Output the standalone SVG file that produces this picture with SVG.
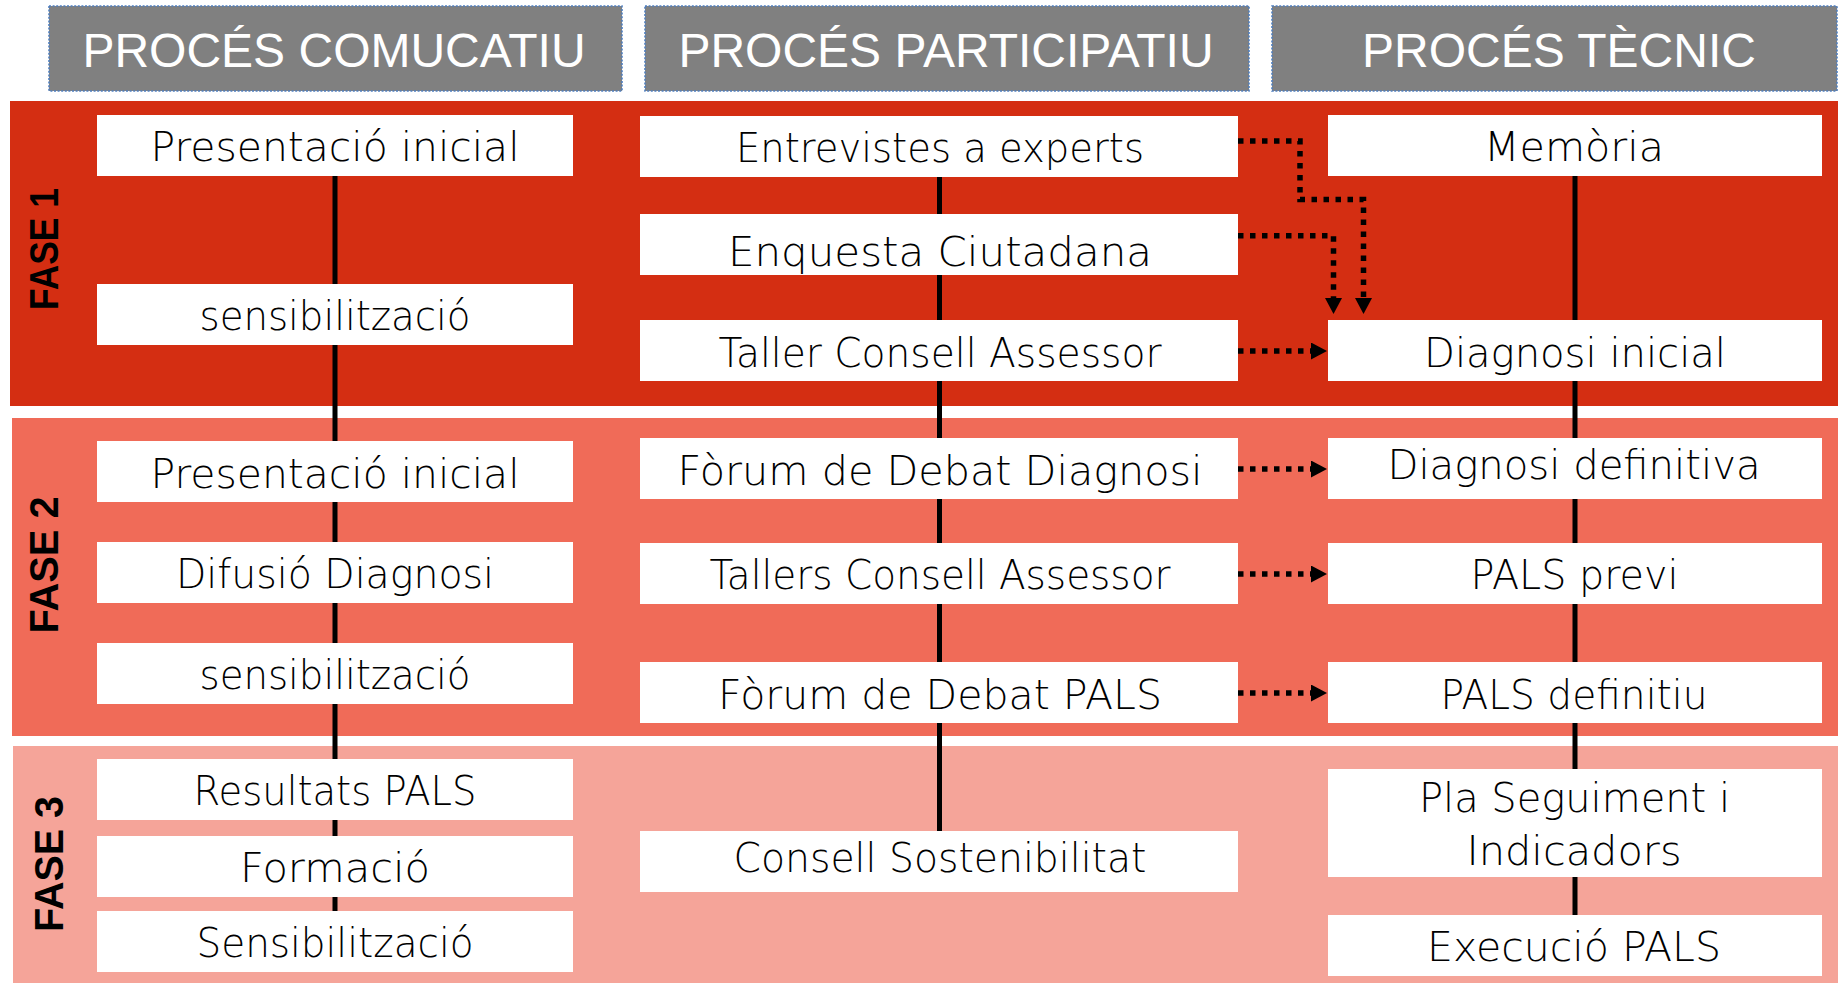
<svg xmlns="http://www.w3.org/2000/svg" width="1838" height="983" viewBox="0 0 1838 983">
<style>
.hdr{fill:#808080;stroke:#4F7FC0;stroke-width:1.6;stroke-dasharray:2 1.6}
.ht{font-family:"Liberation Sans",Arial,sans-serif;font-size:48px;fill:#fff;text-anchor:middle}
.box{fill:#fff}
.t{font-family:"DejaVu Sans",sans-serif;font-weight:200;font-size:40px;fill:#000;text-anchor:middle}
.fase{font-family:"Liberation Sans",Arial,sans-serif;font-weight:bold;font-size:40px;fill:#000;text-anchor:middle}
.solid{stroke:#000;stroke-width:5;fill:none}
.dot{stroke:#000;stroke-width:5.5;fill:none;stroke-dasharray:5.5 6.5}
</style>
<defs>
<marker id="ah" markerUnits="userSpaceOnUse" markerWidth="16" markerHeight="17" refX="0" refY="8.5" orient="auto" viewBox="0 0 16 17">
<path d="M0,0 L16,8.5 L0,17 z" fill="#000"/>
</marker>
</defs>
<rect width="1838" height="983" fill="#fff"/>
<g id="headers">
<g id="h1"><rect class="hdr" x="49" y="6" width="573" height="85"/><text class="ht" x="334" y="67">PROCÉS COMUCATIU</text></g>
<g id="h2"><rect class="hdr" x="645" y="6" width="604" height="85"/><text class="ht" x="946" y="67">PROCÉS PARTICIPATIU</text></g>
<g id="h3"><rect class="hdr" x="1272" y="6" width="565" height="85"/><text class="ht" x="1559" y="67">PROCÉS TÈCNIC</text></g>
</g>
<g id="bands">
<g id="fase1"><rect x="10" y="101" width="1828" height="305" fill="#D42E12"/><text class="fase" transform="translate(57.5,249) rotate(-90)" textLength="122" lengthAdjust="spacingAndGlyphs">FASE 1</text></g>
<g id="fase2"><rect x="12" y="418" width="1826" height="318" fill="#F06B58"/><text class="fase" transform="translate(58,565) rotate(-90)" textLength="137" lengthAdjust="spacingAndGlyphs">FASE 2</text></g>
<g id="fase3"><rect x="13" y="746" width="1825" height="237" fill="#F5A499"/><text class="fase" transform="translate(62.5,864) rotate(-90)" textLength="136" lengthAdjust="spacingAndGlyphs">FASE 3</text></g>
</g>
<g id="connectors">
<path class="solid" d="M335,176 V911"/>
<path class="solid" d="M939.5,177 V831"/>
<path class="solid" d="M1575,176 V915"/>
<path class="dot" d="M1238,141 H1300 V199.5 H1363.5 V298" marker-end="url(#ah)"/>
<path class="dot" d="M1238,235.7 H1333.5 V298" marker-end="url(#ah)"/>
<path class="dot" d="M1238,351 H1311" marker-end="url(#ah)"/>
<path class="dot" d="M1238,469 H1311" marker-end="url(#ah)"/>
<path class="dot" d="M1238,574 H1311" marker-end="url(#ah)"/>
<path class="dot" d="M1238,693 H1311" marker-end="url(#ah)"/>
</g>
<g id="col1">
<g id="c1n1"><rect class="box" x="97" y="115" width="476" height="61"/><text class="t" x="335" y="161" textLength="369" lengthAdjust="spacingAndGlyphs">Presentació inicial</text></g>
<g id="c1n2"><rect class="box" x="97" y="284" width="476" height="61"/><text class="t" x="335" y="329.5" textLength="271" lengthAdjust="spacingAndGlyphs">sensibilització</text></g>
<g id="c1n3"><rect class="box" x="97" y="441" width="476" height="61"/><text class="t" x="335" y="487.5" textLength="369" lengthAdjust="spacingAndGlyphs">Presentació inicial</text></g>
<g id="c1n4"><rect class="box" x="97" y="542" width="476" height="61"/><text class="t" x="335" y="588" textLength="318" lengthAdjust="spacingAndGlyphs">Difusió Diagnosi</text></g>
<g id="c1n5"><rect class="box" x="97" y="643" width="476" height="61"/><text class="t" x="335" y="688.5" textLength="271" lengthAdjust="spacingAndGlyphs">sensibilització</text></g>
<g id="c1n6"><rect class="box" x="97" y="759" width="476" height="61"/><text class="t" x="335" y="805" textLength="283" lengthAdjust="spacingAndGlyphs">Resultats PALS</text></g>
<g id="c1n7"><rect class="box" x="97" y="836" width="476" height="61"/><text class="t" x="335" y="881.5" textLength="190" lengthAdjust="spacingAndGlyphs">Formació</text></g>
<g id="c1n8"><rect class="box" x="97" y="911" width="476" height="61"/><text class="t" x="335" y="956.5" textLength="277" lengthAdjust="spacingAndGlyphs">Sensibilització</text></g>
</g>
<g id="col2">
<g id="c2n1"><rect class="box" x="640" y="116" width="598" height="61"/><text class="t" x="940" y="162.3" textLength="408" lengthAdjust="spacingAndGlyphs">Entrevistes a experts</text></g>
<g id="c2n2"><rect class="box" x="640" y="214" width="598" height="61"/><text class="t" x="940" y="265.7" textLength="424" lengthAdjust="spacingAndGlyphs">Enquesta Ciutadana</text></g>
<g id="c2n3"><rect class="box" x="640" y="320" width="598" height="61"/><text class="t" x="940" y="366.7" textLength="443" lengthAdjust="spacingAndGlyphs">Taller Consell Assessor</text></g>
<g id="c2n4"><rect class="box" x="640" y="438" width="598" height="61"/><text class="t" x="940" y="484.8" textLength="525" lengthAdjust="spacingAndGlyphs">Fòrum de Debat Diagnosi</text></g>
<g id="c2n5"><rect class="box" x="640" y="543" width="598" height="61"/><text class="t" x="940" y="588.8" textLength="461" lengthAdjust="spacingAndGlyphs">Tallers Consell Assessor</text></g>
<g id="c2n6"><rect class="box" x="640" y="662" width="598" height="61"/><text class="t" x="940" y="708.6" textLength="444" lengthAdjust="spacingAndGlyphs">Fòrum de Debat PALS</text></g>
<g id="c2n7"><rect class="box" x="640" y="831" width="598" height="61"/><text class="t" x="940" y="872" textLength="413" lengthAdjust="spacingAndGlyphs">Consell Sostenibilitat</text></g>
</g>
<g id="col3">
<g id="c3n1"><rect class="box" x="1328" y="115" width="494" height="61"/><text class="t" x="1574" y="161" textLength="180" lengthAdjust="spacingAndGlyphs">Memòria</text></g>
<g id="c3n2"><rect class="box" x="1328" y="320" width="494" height="61"/><text class="t" x="1575" y="366.7" textLength="302" lengthAdjust="spacingAndGlyphs">Diagnosi inicial</text></g>
<g id="c3n3"><rect class="box" x="1328" y="438" width="494" height="61"/><text class="t" x="1574" y="479.2" textLength="373" lengthAdjust="spacingAndGlyphs">Diagnosi definitiva</text></g>
<g id="c3n4"><rect class="box" x="1328" y="543" width="494" height="61"/><text class="t" x="1574.5" y="588.8" textLength="208" lengthAdjust="spacingAndGlyphs">PALS previ</text></g>
<g id="c3n5"><rect class="box" x="1328" y="662" width="494" height="61"/><text class="t" x="1574" y="708.6" textLength="267" lengthAdjust="spacingAndGlyphs">PALS definitiu</text></g>
<g id="c3n6"><rect class="box" x="1328" y="769" width="494" height="108"/><text class="t" x="1574.5" y="812" textLength="311" lengthAdjust="spacingAndGlyphs">Pla Seguiment i</text><text class="t" x="1574" y="864.7" textLength="215" lengthAdjust="spacingAndGlyphs">Indicadors</text></g>
<g id="c3n7"><rect class="box" x="1328" y="915" width="494" height="61"/><text class="t" x="1574" y="960.6" textLength="294" lengthAdjust="spacingAndGlyphs">Execució PALS</text></g>
</g>
</svg>
